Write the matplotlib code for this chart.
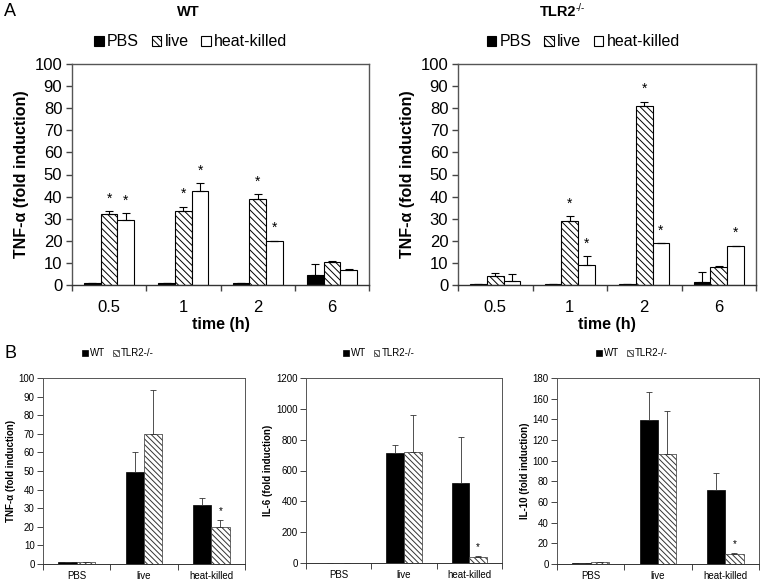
import matplotlib
matplotlib.use("Agg")
import matplotlib.pyplot as plt
import numpy as np

plt.rcParams['font.family'] = ['Liberation Sans', 'DejaVu Sans']
plt.rcParams['hatch.linewidth'] = 0.7

# ---- Panel A data ----
times = ["0.5", "1", "2", "6"]
series_a = ["PBS", "live", "heat-killed"]
wt_pbs = [1.0, 1.0, 1.0, 4.5]
wt_pbs_err = [0.0, 0.0, 0.0, 5.0]
wt_live = [32.0, 33.5, 39.0, 10.5]
wt_live_err = [1.5, 2.0, 2.0, 0.5]
wt_hk = [29.5, 42.5, 20.0, 6.7]
wt_hk_err = [3.0, 3.5, 0.0, 0.5]
wt_live_star = [True, True, True, False]
wt_hk_star = [True, True, True, False]

ko_pbs = [0.5, 0.5, 0.5, 1.5]
ko_pbs_err = [0.0, 0.0, 0.0, 4.5]
ko_live = [4.0, 29.0, 81.0, 8.0]
ko_live_err = [1.5, 2.0, 2.0, 0.5]
ko_hk = [2.0, 9.0, 19.0, 17.5]
ko_hk_err = [3.0, 4.0, 0.0, 0.3]
ko_live_star = [False, True, True, False]
ko_hk_star = [False, True, True, True]

# ---- Panel B data ----
treatments = ["PBS", "live", "heat-killed"]
series_b = ["WT", "TLR2-/-"]
tnf_wt = [1.0, 49.5, 31.5]
tnf_wt_err = [0.0, 10.5, 4.0]
tnf_ko = [1.0, 70.0, 20.0]
tnf_ko_err = [0.0, 23.5, 3.5]
il6_wt = [2.0, 715.0, 520.0]
il6_wt_err = [0.0, 50.0, 295.0]
il6_ko = [0.0, 722.0, 40.0]
il6_ko_err = [0.0, 235.0, 8.0]
il10_wt = [1.0, 139.0, 72.0]
il10_wt_err = [0.0, 27.0, 16.0]
il10_ko = [1.5, 106.0, 9.5]
il10_ko_err = [0.0, 42.0, 1.0]
ko_b_star = [False, False, True]

W, H = 760, 581
fig = plt.figure(figsize=(W / 100, H / 100), dpi=100)


def ax_px(l, t, r, b):
    return fig.add_axes([l / W, 1 - b / H, (r - l) / W, (b - t) / H])


def style_axes(ax, n, ymax, step, fs, xpad, ypad, lw=1.0):
    ax.set_xlim(0, n)
    ax.set_ylim(0, ymax)
    ax.set_yticks(np.arange(0, ymax + step / 2, step))
    ax.set_xticks(np.arange(0, n + 1))
    ax.set_xticklabels([])
    ax.set_xticks(np.arange(n) + 0.5, minor=True)
    ax.tick_params(axis='x', which='major', direction='out', length=4, width=lw, color='#444444')
    ax.tick_params(axis='x', which='minor', length=0, pad=xpad, labelsize=fs)
    ax.tick_params(axis='y', direction='out', length=4, width=lw, color='#444444',
                   labelsize=fs, pad=ypad)
    for s in ['top', 'right', 'left']:
        ax.spines[s].set_color('#555555')
        ax.spines[s].set_linewidth(lw)
    ax.spines['bottom'].set_color('#333333')
    ax.spines['bottom'].set_linewidth(lw)


def draw_a(ax, vals, errs, stars, legx):
    n = len(times)
    bw = 0.225
    x = np.arange(n) + 0.5
    styles = [dict(color='black', edgecolor='black'),
              dict(color='white', edgecolor='black', hatch='\\\\\\\\\\'),
              dict(color='white', edgecolor='black')]
    handles = []
    for i, (v, e) in enumerate(zip(vals, errs)):
        xi = x + (i - 1) * bw
        h = ax.bar(xi, v, bw, linewidth=0.8, label=series_a[i], **styles[i])
        handles.append(h)
        ax.errorbar(xi, v, yerr=[np.zeros(n), e], fmt='none', ecolor='black',
                    elinewidth=0.8, capsize=3, capthick=0.8)
        if stars[i] is not None:
            for j in range(n):
                if stars[i][j]:
                    ax.text(xi[j], v[j] + e[j] + 2.5, '*', ha='center', va='bottom', fontsize=10)
    style_axes(ax, n, 100, 10, 12, xpad=11, ypad=3)
    ax.set_xticklabels(times, minor=True)
    ax.set_ylabel('TNF-α (fold induction)', fontsize=11.5, fontweight='bold', labelpad=4)
    ax.set_xlabel('time (h)', fontsize=11.5, fontweight='bold', labelpad=1)
    ax.legend(handles=handles, loc='lower center', bbox_to_anchor=(legx, 1.03), ncol=3,
              frameon=False, fontsize=11.5, handlelength=0.6, handleheight=0.6,
              handletextpad=0.2, columnspacing=0.8, borderpad=0)


ax1 = ax_px(72, 64, 369, 285)
draw_a(ax1, [wt_pbs, wt_live, wt_hk], [wt_pbs_err, wt_live_err, wt_hk_err],
       [None, wt_live_star, wt_hk_star], 0.40)
ax2 = ax_px(458, 64, 756, 285)
draw_a(ax2, [ko_pbs, ko_live, ko_hk], [ko_pbs_err, ko_live_err, ko_hk_err],
       [None, ko_live_star, ko_hk_star], 0.42)

# panel titles
fig.text(188 / W, 1 - 12 / H, 'WT', fontsize=10.5, fontweight='bold', ha='center', va='center')
fig.text(576 / W, 1 - 12 / H, 'TLR2', fontsize=10.5, fontweight='bold', ha='right', va='center')
fig.text(576 / W, 1 - 8 / H, '-/-', fontsize=7, ha='left', va='center')


def draw_b(ax, wt, wte, ko, koe, ymax, step, ylabel):
    n = len(treatments)
    bw = 0.27
    x = np.arange(n) + 0.5
    h1 = ax.bar(x - bw / 2, wt, bw, color='black', edgecolor='black', linewidth=0.5, label=series_b[0])
    h2 = ax.bar(x + bw / 2, ko, bw, color='white', edgecolor='#333333', linewidth=0.5,
                hatch='\\\\\\\\\\\\', label=series_b[1])
    ax.errorbar(x - bw / 2, wt, yerr=[np.zeros(n), wte], fmt='none', ecolor='#333333',
                elinewidth=0.6, capsize=2, capthick=0.6)
    ax.errorbar(x + bw / 2, ko, yerr=[np.zeros(n), koe], fmt='none', ecolor='#333333',
                elinewidth=0.6, capsize=2, capthick=0.6)
    for j in range(n):
        if ko_b_star[j]:
            ax.text(x[j] + bw / 2, ko[j] + koe[j] + ymax * 0.02, '*', ha='center', va='bottom', fontsize=7)
    style_axes(ax, n, ymax, step, 7, xpad=5, ypad=2, lw=0.7)
    ax.set_xticklabels(treatments, minor=True)
    ax.set_ylabel(ylabel, fontsize=7, fontweight='bold', labelpad=2)
    ax.legend(handles=[h1, h2], loc='lower center', bbox_to_anchor=(0.37, 1.08), ncol=2,
              frameon=False, fontsize=7, handlelength=0.6, handleheight=0.6,
              handletextpad=0.2, columnspacing=0.8, borderpad=0)


bx1 = ax_px(43, 378, 245, 564)
draw_b(bx1, tnf_wt, tnf_wt_err, tnf_ko, tnf_ko_err, 100, 10, 'TNF-α (fold induction)')
bx2 = ax_px(306, 378, 502, 563)
draw_b(bx2, il6_wt, il6_wt_err, il6_ko, il6_ko_err, 1200, 200, 'IL-6 (fold induction)')
bx3 = ax_px(557, 378, 759, 564)
draw_b(bx3, il10_wt, il10_wt_err, il10_ko, il10_ko_err, 180, 20, 'IL-10 (fold induction)')

fig.text(4 / W, 1 - 3 / H, 'A', fontsize=13, va='top', ha='left')
fig.text(4 / W, 1 - 345 / H, 'B', fontsize=13, va='top', ha='left')

fig.savefig('out.png', dpi=100)
